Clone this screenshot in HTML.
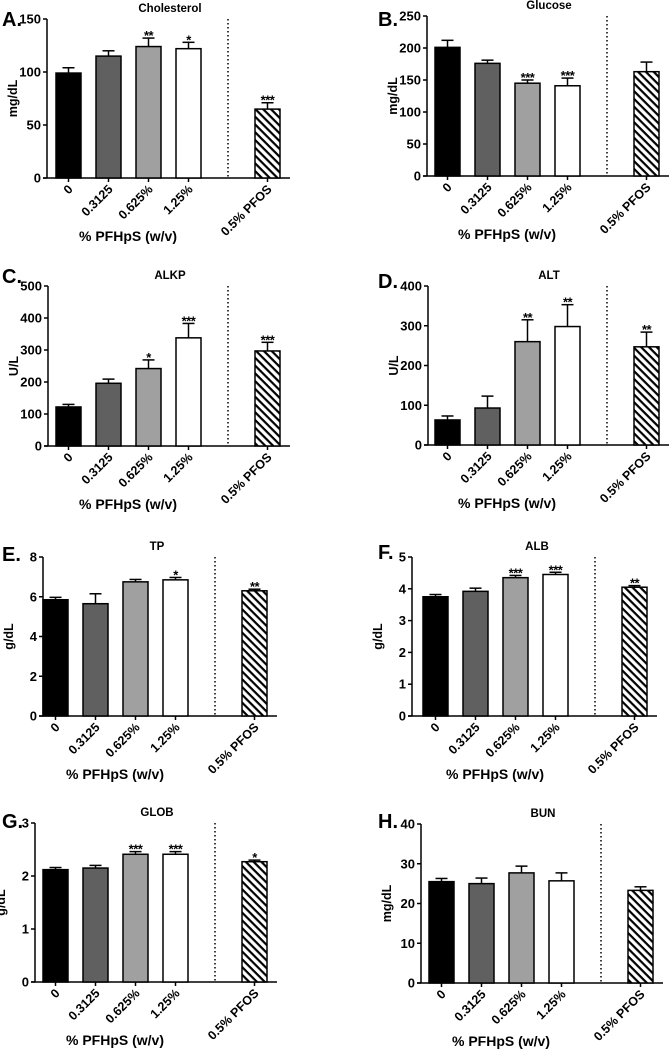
<!DOCTYPE html>
<html><head><meta charset="utf-8"><style>
html,body{margin:0;padding:0;background:#fff;}
svg{display:block;}
svg text{font-family:"Liberation Sans",Arial,sans-serif;font-weight:700;}
</style></head><body>
<svg id="fig" width="669" height="1050" viewBox="0 0 669 1050">
<defs>
<pattern id="hatch" patternUnits="userSpaceOnUse" width="5.5" height="5.5" patternTransform="rotate(45)">
<rect width="5.5" height="5.5" fill="#fff"/><rect x="0" y="0" width="5.5" height="2.2" fill="#000"/>
</pattern>
</defs>
</svg>
<script>
const categories = ["0","0.3125","0.625%","1.25%","0.5% PFOS"];
const titles = ["Cholesterol","Glucose","ALKP","ALT","TP","ALB","GLOB","BUN"];
const letters = ["A.","B.","C.","D.","E.","F.","G.","H."];
const yUnits = ["mg/dL","mg/dL","U/L","U/L","g/dL","g/dL","g/dL","mg/dL"];
const yMax = [150,250,500,400,8,5,3,40];
const yStep = [50,50,100,100,2,1,1,10];
const valsA = [99,115,124,122,65];
const valsB = [201,176,145,141,163];
const valsC = [122,196,242,338,297];
const valsD = [63,93,260,298,247];
const valsE = [5.85,5.65,6.75,6.85,6.3];
const valsF = [3.75,3.92,4.35,4.45,4.05];
const valsG = [2.12,2.15,2.41,2.41,2.27];
const valsH = [25.5,25,27.7,25.7,23.3];
const errA = [5,5,8,6,6];
const errB = [11,5,5,12,15];
const errC = [8,13,27,45,27];
const errD = [10,30,55,55,37];
const errE = [0.12,0.5,0.12,0.12,0.08];
const errF = [0.07,0.1,0.07,0.07,0.05];
const errG = [0.04,0.05,0.05,0.05,0.03];
const errH = [0.8,1.4,1.7,2,0.9];
const starsA = ["","","**","*","***"];
const starsB = ["","","***","***",""];
const starsC = ["","","*","***","***"];
const starsD = ["","","**","**","**"];
const starsE = ["","","","*","**"];
const starsF = ["","","***","***","**"];
const starsG = ["","","***","***","*"];
const starsH = ["","","","",""];
const allVals=[valsA,valsB,valsC,valsD,valsE,valsF,valsG,valsH];
const allErr=[errA,errB,errC,errD,errE,errF,errG,errH];
const allStars=[starsA,starsB,starsC,starsD,starsE,starsF,starsG,starsH];
// layout: axisX, top, zero, bar0 left, letterX, letterY
const layout=[
 [47,19,178,56,2,26],[427,16,176,435,378,26],
 [48,286,446,56,2,283],[428,286,445,435,378,288],
 [43,557,716,43,2,561],[412,557,716,423,378,559],
 [35,823,982,43,2,828],[421,824,983,429,378,828]
];
const fills=["#000","#606060","#a0a0a0","#fff","url(#hatch)"];
const svg=document.getElementById('fig');
const NS="http://www.w3.org/2000/svg";
function mk(tag,attrs,parent,text){const e=document.createElementNS(NS,tag);for(const k in attrs)e.setAttribute(k,attrs[k]);if(text!==undefined){e.textContent=text;e.setAttribute('font-weight','bold');}(parent||svg).appendChild(e);return e;}
for(let p=0;p<8;p++){
 const [ax,top,zero,b0,lx,ly]=layout[p];
 const g=mk('g',{});
 
 
 const y=v=>zero-(v/yMax[p])*(zero-top);
 const bx=i=>i<4?b0+i*40:b0+199;
 const bw=25;
 const endX=b0+199+bw+10;
 let t=mk('text',{x:lx,y:ly,'font-size':20},g,letters[p]);
 
 t=mk('text',{x:b0+114,y:top-7,'font-size':11.5,'text-anchor':'middle'},g,titles[p]);
 
 let l=mk('line',{x1:ax,y1:top,x2:ax,y2:zero,stroke:'#000','stroke-width':1.5},g);
 
 l=mk('line',{x1:ax-4,y1:zero,x2:endX,y2:zero,stroke:'#000','stroke-width':1.5},g);
 
 for(let v=0;v<=yMax[p]+1e-9;v+=yStep[p]){
  mk('line',{x1:ax-4,y1:y(v),x2:ax,y2:y(v),stroke:'#000','stroke-width':1.5},g);
  t=mk('text',{x:ax-6,y:y(v)+4.5,'font-size':13,'text-anchor':'end'},g,String(v));
  
 }
 t=mk('text',{x:0,y:0,'font-size':12.5,'text-anchor':'middle',transform:`translate(${ax-30},${(top+zero)/2}) rotate(-90)`},g,yUnits[p]);
 
 l=mk('line',{x1:b0+172,y1:top,x2:b0+172,y2:zero,stroke:'#000','stroke-width':1.5,'stroke-dasharray':'1.5,2.5'},g);
 
 const vals=allVals[p],errs=allErr[p],stars=allStars[p];
 for(let i=0;i<5;i++){
  const x=bx(i),cx=x+bw/2,yt=y(vals[i]),ye=y(vals[i]+errs[i]);
  mk('line',{x1:cx,y1:yt,x2:cx,y2:ye,stroke:'#000','stroke-width':1.5},g);
  mk('line',{x1:cx-6,y1:ye,x2:cx+6,y2:ye,stroke:'#000','stroke-width':1.5},g);
  const r=mk('rect',{x:x,y:yt,width:bw,height:zero-yt,fill:fills[i],stroke:'#000','stroke-width':1.5},g);
  
  
  if(stars[i]){t=mk('text',{x:cx,y:ye+2,'font-size':13,'text-anchor':'middle','letter-spacing':'-0.5'},g,stars[i]);
   }
  mk('line',{x1:cx,y1:zero,x2:cx,y2:zero+4,stroke:'#000','stroke-width':1.5},g);
  t=mk('text',{x:0,y:0,'font-size':12.5,'text-anchor':'end',transform:`translate(${cx+5},${zero+12}) rotate(-45)`},g,categories[i]);
  
 }
 t=mk('text',{x:b0+72,y:zero+63,'font-size':14,'text-anchor':'middle'},g,'% PFHpS (w/v)');
 
}
</script>
</body></html>
